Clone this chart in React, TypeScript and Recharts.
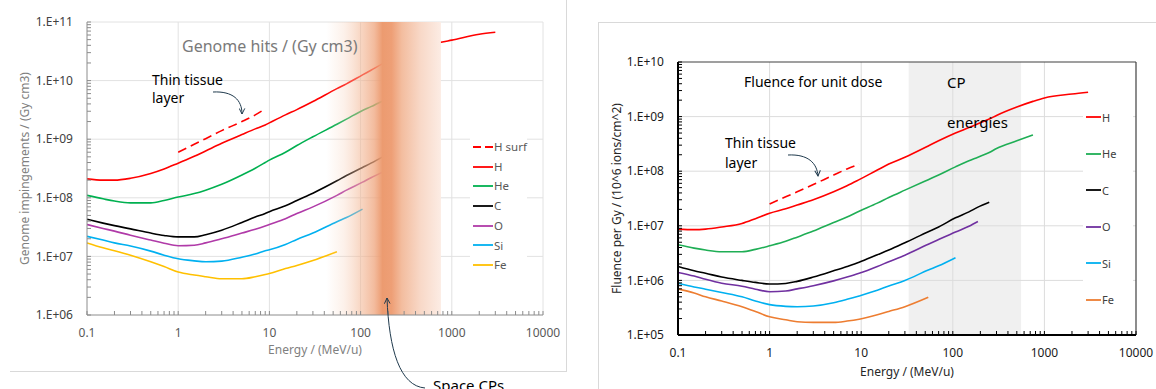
import React from 'react';
import { LineChart, Line, XAxis, YAxis, ReferenceLine, ReferenceArea, Legend } from 'recharts';

const FONT = "'Noto Sans', 'DejaVu Sans', sans-serif";

// ---------- axis ticks ----------
const X_DECADES = [0.1, 1, 10, 100, 1000, 10000];
const Y_DECADES_L = [1e6, 1e7, 1e8, 1e9, 1e10, 1e11];
const Y_DECADES_R = [1e5, 1e6, 1e7, 1e8, 1e9, 1e10];
const MINOR_MULTS = [1, 2, 3, 4, 5, 6, 7, 8, 9];

// ---------- left chart: Genome hits ----------
const E_L = [0.1, 0.15, 0.2, 0.3, 0.5, 0.7, 1, 1.5, 2, 3, 5, 7, 9, 10, 15, 20, 30, 55, 70, 105, 130, 175, 300, 500, 760, 1000, 2000, 3000];
const L_HSURF = [null, null, null, null, null, null, 6.0e8, 8.2e8, 1.02e9, 1.4e9, 2.0e9, 2.6e9, 3.3e9, null, null, null, null, null, null, null, null, null, null, null, null, null, null, null];
const L_H = [2.1e8, 2.0e8, 2.0e8, 2.15e8, 2.6e8, 3.1e8, 3.9e8, 5.1e8, 6.3e8, 8.5e8, 1.2e9, 1.5e9, 1.75e9, 1.9e9, 2.6e9, 3.2e9, 4.4e9, 7.3e9, 8.8e9, 1.25e10, 1.5e10, 1.95e10, 2.8e10, 3.7e10, 4.5e10, 4.9e10, 6.2e10, 6.7e10];
const L_HE = [1.1e8, 9.6e7, 8.8e7, 8.2e7, 8.2e7, 9.0e7, 1.03e8, 1.18e8, 1.35e8, 1.7e8, 2.45e8, 3.2e8, 4.0e8, 4.4e8, 6.0e8, 7.8e8, 1.1e9, 1.8e9, 2.2e9, 3.1e9, 3.6e9, 4.5e9, null, null, null, null, null, null];
const L_C = [4.3e7, 3.7e7, 3.35e7, 2.95e7, 2.5e7, 2.28e7, 2.15e7, 2.15e7, 2.35e7, 2.8e7, 3.8e7, 4.7e7, 5.4e7, 5.8e7, 7.3e7, 9.0e7, 1.2e8, 1.95e8, 2.4e8, 3.3e8, 3.9e8, 5.0e8, null, null, null, null, null, null];
const L_O = [3.5e7, 3.0e7, 2.7e7, 2.3e7, 1.9e7, 1.68e7, 1.52e7, 1.55e7, 1.7e7, 2.0e7, 2.5e7, 2.9e7, 3.3e7, 3.5e7, 4.4e7, 5.4e7, 7.0e7, 1.1e8, 1.35e8, 1.85e8, 2.2e8, 2.75e8, null, null, null, null, null, null];
const L_SI = [2.2e7, 1.9e7, 1.7e7, 1.5e7, 1.23e7, 1.05e7, 9.1e6, 8.4e6, 8.1e6, 8.3e6, 9.7e6, 1.1e7, 1.25e7, 1.3e7, 1.6e7, 1.95e7, 2.5e7, 3.9e7, 4.6e7, 6.4e7, null, null, null, null, null, null, null, null];
const L_FE = [1.7e7, 1.4e7, 1.25e7, 1.05e7, 8.1e6, 6.7e6, 5.4e6, 4.8e6, 4.5e6, 4.15e6, 4.15e6, 4.5e6, 4.9e6, 5.1e6, 6.2e6, 7.0e6, 8.5e6, 1.2e7, null, null, null, null, null, null, null, null, null, null];
const L_BAND = [42, 760];

// ---------- right chart: Fluence for unit dose ----------
const E_R = [0.1, 0.15, 0.2, 0.3, 0.5, 0.7, 1, 1.5, 2, 3, 5, 7, 9.5, 15, 20, 30, 54, 70, 107, 150, 188, 250, 300, 500, 750, 1000, 2000, 3000];
const R_HSURF = [null, null, null, null, null, null, 2.5e7, 3.4e7, 4.2e7, 5.7e7, 8.5e7, 1.1e8, 1.35e8, null, null, null, null, null, null, null, null, null, null, null, null, null, null, null];
const R_H = [8.7e6, 8.5e6, 8.7e6, 9.5e6, 1.1e7, 1.35e7, 1.7e7, 2.05e7, 2.4e7, 3.0e7, 4.2e7, 5.4e7, 7.0e7, 1.05e8, 1.35e8, 1.8e8, 2.9e8, 3.6e8, 5.0e8, 6.3e8, 7.4e8, 9.0e8, 1.05e9, 1.5e9, 1.9e9, 2.2e9, 2.6e9, 2.8e9];
const R_HE = [4.5e6, 3.9e6, 3.6e6, 3.35e6, 3.35e6, 3.7e6, 4.3e6, 5.2e6, 6.2e6, 8.0e6, 1.15e7, 1.45e7, 1.85e7, 2.6e7, 3.3e7, 4.5e7, 7.0e7, 8.5e7, 1.2e8, 1.55e8, 1.8e8, 2.2e8, 2.6e8, 3.6e8, 4.6e8, null, null, null];
const R_C = [1.8e6, 1.5e6, 1.35e6, 1.15e6, 1.0e6, 9.2e5, 8.6e5, 8.8e5, 9.6e5, 1.15e6, 1.5e6, 1.8e6, 2.15e6, 2.95e6, 3.6e6, 4.9e6, 7.8e6, 9.5e6, 1.4e7, 1.8e7, 2.2e7, 2.7e7, null, null, null, null, null, null];
const R_O = [1.4e6, 1.2e6, 1.05e6, 8.9e5, 7.8e5, 6.9e5, 6.2e5, 6.4e5, 7.0e5, 8.0e5, 9.8e5, 1.15e6, 1.35e6, 1.8e6, 2.2e6, 2.9e6, 4.6e6, 5.6e6, 7.7e6, 9.8e6, 1.2e7, null, null, null, null, null, null, null];
const R_SI = [8.9e5, 7.6e5, 6.9e5, 6.0e5, 5.0e5, 4.2e5, 3.6e5, 3.35e5, 3.3e5, 3.4e5, 3.9e5, 4.5e5, 5.2e5, 6.6e5, 7.9e5, 1.0e6, 1.55e6, 1.85e6, 2.6e6, null, null, null, null, null, null, null, null, null];
const R_FE = [7.0e5, 5.9e5, 5.0e5, 4.2e5, 3.3e5, 2.7e5, 2.15e5, 1.9e5, 1.75e5, 1.7e5, 1.7e5, 1.8e5, 1.95e5, 2.35e5, 2.7e5, 3.3e5, 4.9e5, null, null, null, null, null, null, null, null, null, null, null];
const R_BAND = [33, 556];

const leftRows = E_L.map((e, i) => ({ e, Hsurf: L_HSURF[i], H: L_H[i], He: L_HE[i], C: L_C[i], O: L_O[i], Si: L_SI[i], Fe: L_FE[i] }));
const rightRows = E_R.map((e, i) => ({ e, Hsurf: R_HSURF[i], H: R_H[i], He: R_HE[i], C: R_C[i], O: R_O[i], Si: R_SI[i], Fe: R_FE[i] }));

const LEFT_SERIES = [
  { key: 'Hsurf', name: 'H surf', color: '#ff0000', dash: '9 5' },
  { key: 'H', name: 'H', color: '#ff0000' },
  { key: 'He', name: 'He', color: '#00b050' },
  { key: 'C', name: 'C', color: '#000000' },
  { key: 'O', name: 'O', color: '#b03aa8' },
  { key: 'Si', name: 'Si', color: '#00b0f0' },
  { key: 'Fe', name: 'Fe', color: '#ffc000' },
];
const RIGHT_SERIES = [
  { key: 'Hsurf', name: 'H surf', color: '#ff0000', dash: '9 5', noLegend: true },
  { key: 'H', name: 'H', color: '#ff0000' },
  { key: 'He', name: 'He', color: '#1fae55' },
  { key: 'C', name: 'C', color: '#000000' },
  { key: 'O', name: 'O', color: '#7030a0' },
  { key: 'Si', name: 'Si', color: '#00b0f0' },
  { key: 'Fe', name: 'Fe', color: '#ed7d31' },
];

const withMinor = (decades: number[]) =>
  decades.slice(0, -1).flatMap((d) => MINOR_MULTS.map((m) => +(d * m).toPrecision(6))).concat(decades[decades.length - 1]);

const X_TICKS = withMinor(X_DECADES);
const YL_TICKS = withMinor(Y_DECADES_L);
const YR_TICKS = withMinor(Y_DECADES_R);

const fmtExp = (v: number) => `1.E+${String(Math.round(Math.log10(v))).padStart(2, '0')}`;

const makeYTick = (majors: number[], color: string, labelColor: string) => (props: any) => {
  const { x, y, payload } = props;
  const v = payload.value;
  const major = majors.includes(v);
  return (
    <g>
      <line x1={x} x2={x + 4} y1={y} y2={y} stroke={color} strokeWidth={1} />
      {major && (
        <text x={x - 14} y={y} dy="0.35em" textAnchor="end" fontSize={12} fill={labelColor} fontFamily={FONT}>
          {fmtExp(v)}
        </text>
      )}
    </g>
  );
};

const makeXTick = (majors: number[], color: string, labelColor: string) => (props: any) => {
  const { x, y, payload } = props;
  const v = payload.value;
  const major = majors.includes(v);
  return (
    <g>
      <line x1={x} x2={x} y1={y} y2={y - 4} stroke={color} strokeWidth={1} />
      {major && (
        <text x={x} y={y + 18} dy="0.35em" textAnchor="middle" fontSize={12} fill={labelColor} fontFamily={FONT}>
          {String(v)}
        </text>
      )}
    </g>
  );
};

const makeLegend = (series: any[], rowH: number, lineW: number, fontSize: number, textColor: string) => (props: any) => {
  const payload = (props.payload || [])
    .filter((entry: any) => {
      const s = series.find((q) => q.name === entry.value);
      return s && !s.noLegend;
    })
    .sort(
      (a: any, b: any) =>
        series.findIndex((q) => q.name === a.value) - series.findIndex((q) => q.name === b.value)
    );
  return (
    <div style={{ background: '#fff', fontFamily: FONT }}>
      {payload.map((entry: any) => {
        const s = series.find((q) => q.name === entry.value);
        return (
          <div key={entry.value} style={{ height: rowH, display: 'flex', alignItems: 'center', paddingLeft: 3, whiteSpace: 'nowrap' }}>
            <svg width={lineW} height={4} style={{ display: 'block', flex: 'none' }}>
              <line x1={0} x2={lineW} y1={2} y2={2} stroke={entry.color} strokeWidth={1.8} strokeDasharray={s && s.dash ? '8 4' : undefined} />
            </svg>
            <span style={{ marginLeft: 1, fontSize, color: textColor, lineHeight: 1 }}>{entry.value}</span>
          </div>
        );
      })}
    </div>
  );
};

const App = () => {
  return (
    <div style={{ position: 'absolute', left: 0, top: 0, width: 1156, height: 389, background: '#fff', overflow: 'hidden', fontFamily: FONT }}>
      {/* panel frames */}
      <div style={{ position: 'absolute', left: 10, top: -5, width: 557, height: 377, boxSizing: 'border-box', borderRight: '1px solid #d9d9d9', borderBottom: '1px solid #d9d9d9' }} />
      <div style={{ position: 'absolute', left: 598, top: 22, width: 600, height: 400, boxSizing: 'border-box', borderLeft: '1px solid #d9d9d9', borderTop: '1px solid #d9d9d9' }} />

      {/* LEFT CHART */}
      <div style={{ position: 'absolute', left: 0, top: 0 }}>
        <LineChart width={566} height={389} data={leftRows} margin={{ top: 22, right: 23, bottom: 29, left: 27 }}>
          <defs>
            <linearGradient id="cpBand" x1="0" y1="0" x2="1" y2="0">
              <stop offset="0%" stopColor="#f6c9ae" stopOpacity={0} />
              <stop offset="15%" stopColor="#f6c9ae" stopOpacity={0.25} />
              <stop offset="30%" stopColor="#f2b592" stopOpacity={0.55} />
              <stop offset="42%" stopColor="#efa47c" stopOpacity={0.75} />
              <stop offset="49%" stopColor="#ec9b70" stopOpacity={1} />
              <stop offset="57%" stopColor="#ee9f76" stopOpacity={1} />
              <stop offset="66%" stopColor="#f3bd9f" stopOpacity={1} />
              <stop offset="82%" stopColor="#f8d8c7" stopOpacity={1} />
              <stop offset="100%" stopColor="#fcece4" stopOpacity={1} />
            </linearGradient>
          </defs>
          <XAxis
            dataKey="e" type="number" scale="log" domain={[0.1, 10000]} allowDataOverflow
            ticks={X_TICKS} interval={0} tickSize={0} tickMargin={0} tickLine={false} height={45}
            axisLine={{ stroke: '#8c8c8c', strokeWidth: 1 }}
            tick={makeXTick(X_DECADES, '#8c8c8c', '#595959')}
            label={{ value: 'Energy / (MeV/u)', position: 'insideBottom', offset: 6, style: { fill: '#7f7f7f', fontSize: 12, fontFamily: FONT } }}
          />
          <YAxis
            type="number" scale="log" domain={[1e6, 1e11]} allowDataOverflow
            ticks={YL_TICKS} interval={0} tickSize={0} tickMargin={0} tickLine={false} width={60}
            axisLine={{ stroke: '#8c8c8c', strokeWidth: 1 }}
            tick={makeYTick(Y_DECADES_L, '#8c8c8c', '#404040')}
            label={{ value: 'Genome impingements / (Gy cm3)', angle: -90, position: 'insideLeft', offset: -2, style: { textAnchor: 'middle', fill: '#7f7f7f', fontSize: 12, fontFamily: FONT } }}
          />
          {Y_DECADES_L.slice(1).map((v) => (
            <ReferenceLine key={'ly' + v} y={v} stroke="#e2e2e2" strokeWidth={1} zIndex={-50} />
          ))}
          {X_DECADES.slice(1).map((v) => (
            <ReferenceLine key={'lx' + v} x={v} stroke="#e2e2e2" strokeWidth={1} zIndex={-50} />
          ))}
          {LEFT_SERIES.map((s) => (
            <Line
              key={s.key} dataKey={s.key} name={s.name} stroke={s.color} strokeWidth={1.6}
              strokeDasharray={s.dash} dot={false} activeDot={false} type="monotone"
              isAnimationActive={false} connectNulls={false}
            />
          ))}
          <ReferenceArea x1={L_BAND[0]} x2={L_BAND[1]} fill="url(#cpBand)" fillOpacity={1} stroke="none" zIndex={450} />
          <Legend
            layout="vertical" align="center" verticalAlign="middle"
            wrapperStyle={{ left: 470, top: 137, width: 57, height: 138 }}
            content={makeLegend(LEFT_SERIES, 19.7, 20, 11.5, '#595959')}
          />
        </LineChart>
      </div>

      {/* RIGHT CHART */}
      <div style={{ position: 'absolute', left: 598, top: 0 }}>
        <LineChart width={558} height={389} data={rightRows} margin={{ top: 62, right: 20, bottom: 9, left: 20 }}>
          <XAxis
            dataKey="e" type="number" scale="log" domain={[0.1, 10000]} allowDataOverflow
            ticks={X_TICKS} interval={0} tickSize={0} tickMargin={0} tickLine={false} height={45}
            axisLine={{ stroke: '#000', strokeWidth: 2 }}
            tick={makeXTick(X_DECADES, '#000', '#1a1a1a')}
            label={{ value: 'Energy / (MeV/u)', position: 'insideBottom', offset: 4, style: { fill: '#262626', fontSize: 12, fontFamily: FONT } }}
          />
          <YAxis
            type="number" scale="log" domain={[1e5, 1e10]} allowDataOverflow
            ticks={YR_TICKS} interval={0} tickSize={0} tickMargin={0} tickLine={false} width={60}
            axisLine={{ stroke: '#000', strokeWidth: 2 }}
            tick={makeYTick(Y_DECADES_R, '#000', '#1a1a1a')}
            label={{ value: 'Fluence per Gy  /  (10^6 ions/cm^2)', angle: -90, position: 'insideLeft', offset: -1, style: { textAnchor: 'middle', fill: '#262626', fontSize: 12, fontFamily: FONT } }}
          />
          <ReferenceArea x1={R_BAND[0]} x2={R_BAND[1]} fill="#e4e4e4" fillOpacity={0.55} stroke="none" zIndex={-80} />
          {Y_DECADES_R.slice(1, -1).map((v) => (
            <ReferenceLine key={'ry' + v} y={v} stroke="#dcdcdc" strokeWidth={1} zIndex={-50} />
          ))}
          {X_DECADES.slice(1, -1).map((v) => (
            <ReferenceLine key={'rx' + v} x={v} stroke="#dcdcdc" strokeWidth={1} zIndex={-50} />
          ))}
          <ReferenceLine y={Y_DECADES_R[Y_DECADES_R.length - 1]} stroke="#404040" strokeWidth={1.2} />
          <ReferenceLine x={X_DECADES[X_DECADES.length - 1]} stroke="#404040" strokeWidth={1.2} />
          {RIGHT_SERIES.map((s) => (
            <Line
              key={s.key} dataKey={s.key} name={s.name} stroke={s.color} strokeWidth={1.6}
              strokeDasharray={s.dash} dot={false} activeDot={false} type="monotone"
              isAnimationActive={false} connectNulls={false}
              legendType={s.noLegend ? 'none' : 'line'}
            />
          ))}
          <Legend
            layout="vertical" align="center" verticalAlign="middle"
            wrapperStyle={{ left: 485, top: 99, width: 50, height: 219 }}
            content={makeLegend(RIGHT_SERIES, 36.5, 15, 11, '#404040')}
          />
        </LineChart>
      </div>

      {/* annotations */}
      <svg width={1156} height={389} style={{ position: 'absolute', left: 0, top: 0, pointerEvents: 'none' }}>
        <defs>
          <marker id="ah" viewBox="0 0 10 10" refX="9" refY="5" markerWidth="7" markerHeight="7" orient="auto" markerUnits="userSpaceOnUse">
            <path d="M1,1 L9,5 L1,9" fill="none" stroke="#1f3a4d" strokeWidth="1.4" />
          </marker>
        </defs>
        <text x={182} y={52} fontSize={16} fill="#7a7a7a" fontFamily={FONT}>Genome hits / (Gy cm3)</text>
        <text x={152} y={85} fontSize={14} fill="#000" fontFamily={FONT}>Thin tissue</text>
        <text x={152} y={103} fontSize={14} fill="#000" fontFamily={FONT}>layer</text>
        <path d="M 213 92 C 233 91, 242 100, 242 114" fill="none" stroke="#1f3a4d" strokeWidth={1} markerEnd="url(#ah)" />
        <path d="M 425 388 C 400 386, 389 350, 387 298" fill="none" stroke="#1f3a4d" strokeWidth={1} markerEnd="url(#ah)" />
        <text x={433} y={391} fontSize={15} fill="#000" fontFamily={FONT}>Space CPs</text>

        <text x={744} y={87} fontSize={14} fill="#000" fontFamily={FONT}>Fluence for unit dose</text>
        <text x={947} y={88} fontSize={15} fill="#000" fontFamily={FONT}>CP</text>
        <text x={947} y={128} fontSize={15} fill="#000" fontFamily={FONT}>energies</text>
        <text x={725} y={148} fontSize={14} fill="#000" fontFamily={FONT}>Thin tissue</text>
        <text x={725} y={168} fontSize={14} fill="#000" fontFamily={FONT}>layer</text>
        <path d="M 788 155 C 808 154, 817 163, 818 176" fill="none" stroke="#1f3a4d" strokeWidth={1} markerEnd="url(#ah)" />
      </svg>
    </div>
  );
};

export default App;
